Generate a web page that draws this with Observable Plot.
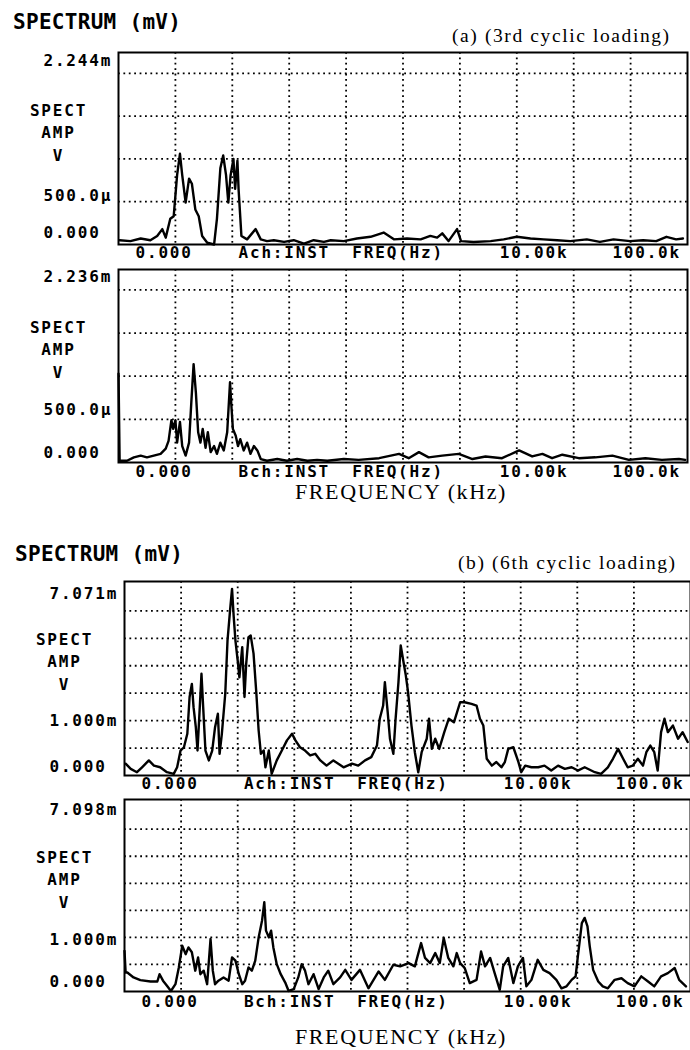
<!DOCTYPE html>
<html><head><meta charset="utf-8">
<script src="https://cdn.jsdelivr.net/npm/d3@7"></script>
<script src="https://cdn.jsdelivr.net/npm/@observablehq/plot@0.6"></script>
<style>
body{margin:0;background:#fff;}
#wrap{position:relative;width:690px;height:1050px;overflow:hidden;background:#fff;}
.t{position:absolute;white-space:nowrap;color:#000;}
.title{font-family:"DejaVu Sans Mono",monospace;font-weight:bold;font-size:21px;line-height:21px;letter-spacing:0.3px;}
.serif{font-family:"Liberation Serif","Times New Roman",serif;}
</style></head><body><div id="wrap">
<div class="t title" style="left:13px;top:12px;">SPECTRUM (mV)</div>
<div class="t serif" style="left:452px;top:26px;font-size:19.5px;line-height:19.5px;letter-spacing:1.6px;">(a) (3rd cyclic loading)</div>
<div class="t serif" style="left:295px;top:481px;font-size:22px;line-height:22px;letter-spacing:1.6px;">FREQUENCY (kHz)</div>
<div class="t title" style="left:15px;top:544px;">SPECTRUM (mV)</div>
<div class="t serif" style="left:458px;top:553px;font-size:19.5px;line-height:19.5px;letter-spacing:1.6px;">(b) (6th cyclic loading)</div>
<div class="t serif" style="left:295px;top:1026px;font-size:22px;line-height:22px;letter-spacing:1.6px;">FREQUENCY (kHz)</div>
</div>
<script>
// x in screen divisions (0..10), y in mV
const aAx = [0.02,0.21,0.39,0.56,0.68,0.77,0.83,0.91,0.97,1.03,1.08,1.12,1.18,1.24,1.29,1.35,1.41,1.47,1.56,1.68,1.73,1.79,1.84,1.89,1.93,1.97,2.02,2.05,2.09,2.11,2.16,2.26,2.41,2.50,2.61,2.73,2.91,3.08,3.26,3.43,3.61,3.73,3.96,4.19,4.43,4.66,4.84,5.07,5.31,5.48,5.60,5.69,5.80,5.95,6.02,6.24,6.54,6.77,7.00,7.24,7.47,7.71,7.94,8.23,8.46,8.70,8.99,9.22,9.45,9.63,9.80,9.92];
const aAy = [0.05,0.04,0.07,0.05,0.10,0.18,0.08,0.30,0.33,0.81,1.06,0.81,0.49,0.77,0.71,0.41,0.33,0.10,0.02,0.00,0.30,0.89,1.04,0.81,0.49,0.81,1.00,0.65,0.98,0.65,0.10,0.06,0.18,0.06,0.04,0.05,0.03,0.05,0.01,0.05,0.03,0.05,0.04,0.07,0.09,0.14,0.06,0.07,0.06,0.10,0.08,0.13,0.04,0.18,0.04,0.03,0.04,0.06,0.09,0.07,0.06,0.05,0.04,0.06,0.03,0.06,0.04,0.05,0.04,0.09,0.06,0.07];

const aBx = [0.00,0.02,0.15,0.27,0.39,0.50,0.62,0.74,0.83,0.88,0.93,0.96,1.00,1.03,1.08,1.12,1.18,1.24,1.28,1.32,1.36,1.40,1.44,1.48,1.53,1.57,1.62,1.68,1.73,1.79,1.85,1.91,1.96,1.98,2.01,2.06,2.10,2.14,2.20,2.26,2.32,2.38,2.44,2.50,2.61,2.79,2.96,3.14,3.32,3.49,3.67,3.96,4.22,4.58,4.93,5.10,5.28,5.45,5.69,5.98,6.22,6.45,6.74,7.04,7.27,7.45,7.62,7.80,8.09,8.38,8.68,8.97,9.26,9.55,9.85,9.96];
const aBy = [1.03,0.02,0.02,0.06,0.08,0.06,0.08,0.10,0.16,0.25,0.49,0.39,0.49,0.23,0.47,0.19,0.08,0.23,0.70,1.14,0.81,0.35,0.23,0.39,0.17,0.35,0.12,0.19,0.10,0.23,0.14,0.35,0.93,0.70,0.39,0.31,0.19,0.27,0.14,0.23,0.10,0.19,0.14,0.04,0.02,0.04,0.02,0.04,0.02,0.03,0.02,0.04,0.03,0.05,0.10,0.05,0.12,0.06,0.08,0.10,0.04,0.07,0.05,0.14,0.07,0.10,0.05,0.09,0.05,0.06,0.08,0.03,0.05,0.03,0.04,0.03];

const bAx = [0.02,0.11,0.22,0.31,0.43,0.52,0.63,0.75,0.87,0.93,0.99,1.05,1.11,1.15,1.19,1.22,1.26,1.29,1.33,1.36,1.39,1.43,1.49,1.55,1.60,1.65,1.68,1.72,1.78,1.82,1.87,1.90,1.93,1.96,2.00,2.03,2.08,2.12,2.15,2.19,2.23,2.28,2.33,2.37,2.41,2.46,2.49,2.55,2.60,2.69,2.78,2.87,2.96,3.02,3.10,3.19,3.28,3.37,3.46,3.57,3.69,3.87,
  4.02,4.13,4.25,4.36,4.46,4.51,4.57,4.60,4.65,4.69,4.75,4.79,4.84,4.88,4.93,4.97,5.01,5.07,5.13,5.19,5.25,5.34,5.38,5.43,5.49,5.56,5.65,5.73,5.82,5.93,6.01,6.13,6.22,6.28,6.34,6.40,6.49,6.57,6.66,6.72,6.78,6.87,6.96,7.01,7.08,7.19,7.31,7.42,7.54,7.66,7.78,7.90,8.01,8.13,8.31,8.42,8.54,8.63,8.72,8.81,8.89,8.98,9.07,9.16,9.22,9.29,9.36,9.42,9.48,9.54,9.60,9.69,9.78,9.86,9.95];
const bAy = [0.43,0.24,0.12,0.30,0.55,0.36,0.30,0.12,0.06,0.30,0.91,1.03,1.52,2.86,3.34,2.49,1.76,0.91,2.49,3.71,2.49,0.91,0.55,0.91,1.76,2.25,0.79,1.52,2.98,4.92,6.14,6.80,5.77,4.92,4.19,3.58,4.68,2.86,4.07,5.04,5.10,4.44,2.98,1.64,0.79,0.91,0.30,0.91,0.06,0.55,0.91,1.28,1.52,1.28,1.03,0.91,0.73,0.79,0.55,0.36,0.55,0.30,
  0.43,0.36,0.55,0.67,1.09,2.07,2.55,3.40,2.31,1.34,0.79,2.07,3.40,4.74,4.13,3.65,3.04,1.82,0.85,0.12,0.85,1.34,2.07,0.97,1.34,0.97,1.58,2.07,1.94,2.67,2.67,2.61,2.55,2.07,1.82,0.61,0.36,0.49,0.30,0.49,0.97,1.03,0.49,0.12,0.36,0.30,0.30,0.36,0.18,0.36,0.24,0.30,0.18,0.30,0.12,0.06,0.30,0.61,0.97,0.61,0.30,0.36,0.61,0.36,0.85,1.09,0.85,0.18,1.58,2.07,1.58,1.82,1.34,1.58,1.22];

const bBx = [0.00,0.02,0.05,0.16,0.28,0.46,0.58,0.62,0.68,0.75,0.82,0.90,0.96,1.02,1.08,1.13,1.19,1.25,1.30,1.34,1.40,1.46,1.52,1.56,1.60,1.66,1.75,1.84,1.90,1.96,2.02,2.08,2.13,2.19,2.25,2.31,2.37,2.43,2.47,2.50,2.55,2.59,2.63,2.69,2.76,2.84,2.90,2.99,3.07,3.13,3.19,3.25,3.34,3.43,3.52,3.60,3.69,3.81,3.90,4.01,4.16,4.31,4.49,4.60,4.75,4.87,5.02,5.13,5.24,5.31,5.40,5.49,5.57,5.64,5.72,5.81,5.87,5.93,6.01,6.10,6.22,6.30,6.37,6.46,6.54,6.63,6.69,6.78,6.87,6.95,7.04,7.10,7.19,7.30,7.40,7.51,7.63,7.72,7.81,7.90,7.97,8.01,8.08,8.13,8.18,8.22,8.28,8.37,8.45,8.54,8.66,8.78,8.89,9.01,9.13,9.25,9.36,9.48,9.60,9.72,9.80,9.92];
const bBy = [1.50,0.70,0.70,0.52,0.42,0.37,0.37,0.64,0.40,0.21,0.02,0.27,0.89,1.69,1.38,1.63,1.45,0.77,1.26,0.64,0.77,0.27,1.94,0.77,0.27,0.40,0.52,0.40,1.26,1.14,0.64,0.27,0.40,0.89,0.77,1.14,2.00,2.62,3.30,2.25,2.00,2.25,1.63,1.01,0.64,0.33,0.02,0.09,0.52,1.01,0.77,0.27,0.64,0.09,0.52,0.77,0.27,0.52,0.80,0.43,0.80,0.12,0.74,0.43,0.99,0.93,1.05,0.93,1.79,1.24,1.05,1.42,1.05,1.98,1.24,0.93,1.42,1.05,0.87,0.31,0.43,1.48,0.93,1.24,0.68,0.06,0.93,1.24,0.31,0.93,1.24,0.19,0.43,1.17,0.80,0.68,0.43,0.12,0.19,0.43,0.56,1.30,2.53,2.72,2.41,1.67,0.80,0.37,0.19,0.12,0.43,0.49,0.31,0.19,0.56,0.37,0.19,0.56,0.68,0.87,0.43,0.19];

// axis / label texts
const divTicks = [1,2,3,4,5,6,7,8,9];
const gridA = [0.5,1.0,1.5,2.0];
const gridB = [1,2,3,4,5,6];
const rowPos = [0.30,2.11,4.11,6.70,8.68];
const rowLabelsA = ["0.000","Ach:INST","FREQ(Hz)","10.00k","100.0k"];
const rowLabelsB = ["0.000","Bch:INST","FREQ(Hz)","10.00k","100.0k"];
const sideLabels = ["SPECT","AMP","V"];

const dotted = {stroke:"black", strokeWidth:1.8, strokeDasharray:"1.8,3.6"};

function panel(o){
  const fh = o.frameBottom - o.frameTop;
  const marks = [
    Plot.ruleX(divTicks, dotted),
    Plot.ruleY(o.grid, dotted),
    Plot.line(o.ys, {x:o.xs, y:o.ys, stroke:"black", strokeWidth:2.4, strokeLinejoin:"round"}),
    Plot.frame({stroke:"black", strokeWidth:2}),
    Plot.text(o.rowLabels, {x:rowPos, frameAnchor:"bottom", textAnchor:"start", dy:o.rowDy, fill:"black"})
  ];
  o.tickLabels.forEach((t,i)=>{
    marks.push(Plot.text([t], {y:[o.tickVals[i]], frameAnchor:"left", textAnchor:"start", dx:-75, dy:o.tickDy[i], fill:"black"}));
  });
  sideLabels.forEach((t,i)=>{
    marks.push(Plot.text([t], {frameAnchor:"top-left", textAnchor:"middle", dx:-60, dy:[52,74,97][i], fill:"black"}));
  });
  const svg = Plot.plot({
    width:690, height:o.mt+fh+o.mb,
    marginLeft:o.ml, marginRight:o.mr, marginTop:o.mt, marginBottom:o.mb,
    x:{domain:[0,10], axis:null},
    y:{domain:[0,o.ymax], axis:null},
    style:{fontFamily:'"DejaVu Sans Mono", monospace', fontSize:"16px", fontWeight:"bold", letterSpacing:"1.8px", background:"transparent", overflow:"visible", color:"black"},
    marks
  });
  svg.style.position = "absolute";
  svg.style.left = "0px";
  svg.style.top = (o.frameTop - o.mt) + "px";
  document.getElementById("wrap").appendChild(svg);
}

panel({xs:aAx, ys:aAy, ymax:2.244, grid:gridA, frameTop:52, frameBottom:244, ml:118, mr:3, mt:12, mb:22,
  rowLabels:rowLabelsA, rowDy:13, tickLabels:["2.244m","500.0µ","0.000"], tickVals:[2.244,0.5,0], tickDy:[8,-6,-12]});
panel({xs:aBx, ys:aBy, ymax:2.236, grid:gridA, frameTop:269, frameBottom:462, ml:118, mr:3, mt:4, mb:24,
  rowLabels:rowLabelsB, rowDy:14, tickLabels:["2.236m","500.0µ","0.000"], tickVals:[2.236,0.5,0], tickDy:[7,-9,-10]});
panel({xs:bAx, ys:bAy, ymax:7.071, grid:gridB, frameTop:581, frameBottom:775, ml:124, mr:0, mt:10, mb:20,
  rowLabels:rowLabelsA, rowDy:13, tickLabels:["7.071m","1.000m","0.000"], tickVals:[7.071,1,0], tickDy:[12,-27,-9]});
panel({xs:bBx, ys:bBy, ymax:7.098, grid:gridB, frameTop:799, frameBottom:991, ml:124, mr:0, mt:4, mb:24,
  rowLabels:rowLabelsB, rowDy:15, tickLabels:["7.098m","1.000m","0.000"], tickVals:[7.098,1,0], tickDy:[10,-25,-10]});
</script></body></html>
